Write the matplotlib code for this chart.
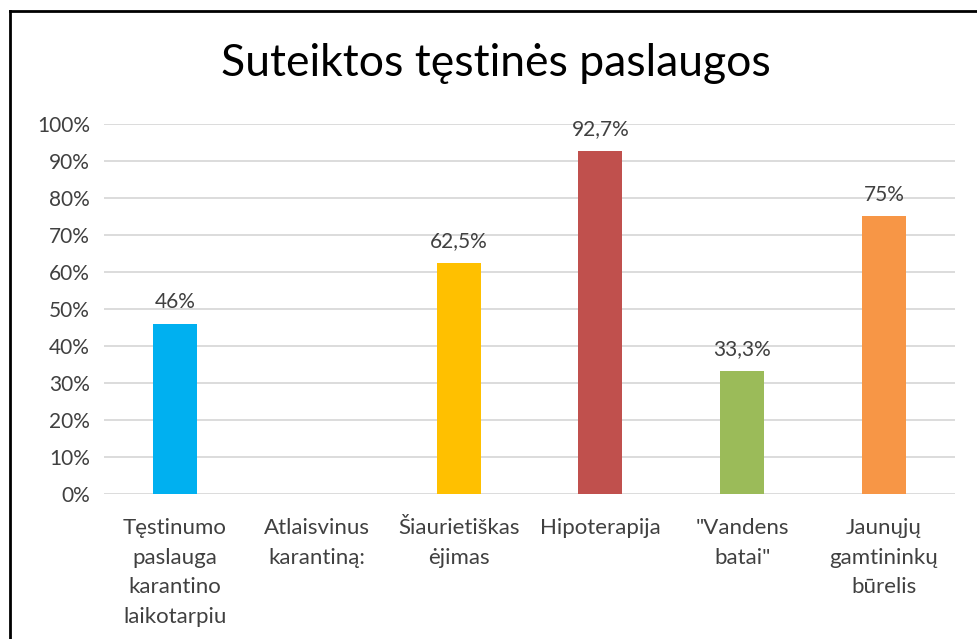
import matplotlib
matplotlib.use("Agg")
import matplotlib.pyplot as plt
from matplotlib.lines import Line2D

plt.rcParams["font.family"] = ["Lato", "DejaVu Sans"]

categories = [
    "Tęstinumo\npaslauga\nkarantino\nlaikotarpiu",
    "Atlaisvinus\nkarantiną:",
    "Šiaurietiškas\nėjimas",
    "Hipoterapija",
    "\"Vandens\nbatai\"",
    "Jaunųjų\ngamtininkų\nbūrelis",
]
values = [0.46, 0.0, 0.625, 0.927, 0.333, 0.75]
value_labels = ["46%", "", "62,5%", "92,7%", "33,3%", "75%"]
colors = ["#00B0F0", "#FFFFFF", "#FFC000", "#C0504D", "#9BBB59", "#F79646"]
yticks = [i / 10 for i in range(11)]
ytick_labels = [f"{i * 10}%" for i in range(11)]

fig = plt.figure(figsize=(9.78, 6.39), dpi=100)
ax = fig.add_axes([0.1063, 0.2269, 0.8702, 0.5791])

x = range(len(categories))
ax.bar(x, values, width=0.31, color=colors, zorder=3)
for xi, v, lab in zip(x, values, value_labels):
    if lab:
        ax.text(xi, v + 0.032, lab, ha="center", va="bottom",
                fontsize=15, color="#404040")

ax.set_xlim(-0.5, len(categories) - 0.5)
ax.set_ylim(0, 1)
ax.set_yticks(yticks)
ax.set_yticklabels(ytick_labels, fontsize=15, color="#404040")
ax.set_xticks(list(x))
ax.set_xticklabels(categories, fontsize=16, color="#404040", linespacing=1.62,
                   va="top")
ax.tick_params(length=0, pad=10)
ax.tick_params(axis="x", pad=17)
ax.grid(axis="y", color="#D9D9D9", lw=1.3, zorder=0)
for s in ax.spines.values():
    s.set_visible(False)

fig.text(0.507, 0.901, "Suteiktos tęstinės paslaugos", ha="center", va="center",
         fontsize=32, color="#000000")

# frame (cut off on the right and bottom)
fig.add_artist(Line2D([10 / 978, 10 / 978], [0, 1 - 11 / 639], color="black",
                      lw=2, transform=fig.transFigure))
fig.add_artist(Line2D([10 / 978, 1], [1 - 11 / 639, 1 - 11 / 639], color="black",
                      lw=2, transform=fig.transFigure))

fig.savefig("out.png", dpi=100)
